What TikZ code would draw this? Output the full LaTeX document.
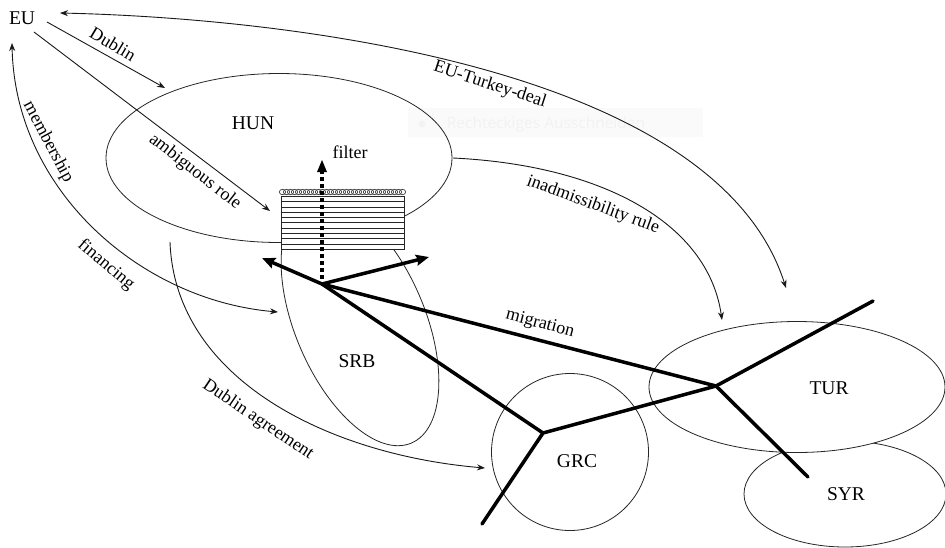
\documentclass[tikz,border=0pt]{standalone}
\usepackage{fontspec}
\setmainfont{Liberation Serif}
\newfontfamily\ghostfont{Open Sans}
\usetikzlibrary{shapes.geometric,arrows.meta}
\tikzset{
  region/.style={draw=black!85,line width=0.8pt,ellipse,inner sep=0pt,fill=white},
  lbl/.style={font=\fontsize{18}{20}\selectfont,inner sep=0pt,text=black},
  place/.style={font=\fontsize{19.5}{21}\selectfont,inner sep=0pt,text=black},
  thin arrow/.style={draw=black!90,line width=0.9pt,-{Stealth[length=8pt,width=6pt]}},
  both arrow/.style={draw=black!90,line width=0.9pt,{Stealth[length=8pt,width=6pt]}-{Stealth[length=8pt,width=6pt]}},
  flow/.style={draw=black,line width=3.5pt,line cap=round,line join=round},
  flow arrow/.style={flow,line cap=butt,-{Stealth[length=13pt,width=11pt,inset=2pt]}},
}
\begin{document}
\begin{tikzpicture}[x=1pt,y=-1pt]
\useasboundingbox (0,0) rectangle (945,547);
\fill[white] (0,0) rectangle (945,547);
% faint residue
\node[fill=black!2,minimum width=295pt,minimum height=29pt,inner sep=0pt] (ghost) at (555.5,122.5) {};
\fill[black!5] (422,124) circle (3.5pt);
\node[font=\ghostfont\fontsize{15.5}{17}\selectfont,text=black!5,inner sep=0pt] (ghosttext) at (546,124) {Rechteckiges Ausschneiden};
% regions
\node[region,minimum width=202pt,minimum height=106pt] (syr) at (845,494) {};
\node[region,minimum width=296pt,minimum height=131pt] (tur) at (797,387) {};
\node[region,circle,minimum size=157pt] (grc) at (570,452) {};
\node[region,fill=none,minimum width=346pt,minimum height=169pt] (hun) at (279,158) {};
\node[region,fill=none,minimum width=263pt,minimum height=130pt,rotate=-67] (srb) at (360,322) {};
% filter block
\node[draw=black!85,fill=white,line width=1pt,minimum width=123pt,minimum height=53pt,inner sep=0pt] (block) at (342.5,222.5) {};
\foreach \yy in {201.5,207,212.3,217.6,222.9,228.2,233.5,238.8,244.2}
  \draw[black!85,line width=0.9pt] (281,\yy) -- (404,\yy);
\fill[white] (279,187) rectangle (407,195.5);
\foreach \i in {0,...,30}
  \draw[black!75,line width=0.7pt] (282.5+\i*4,192) ellipse (3.2pt and 2.7pt);
% labels
\node[place] (eu) at (22,18) {EU};
\node[place] at (253,123) {HUN};
\node[place] at (357,361) {SRB};
\node[place] at (577,461) {GRC};
\node[place] at (829,388) {TUR};
\node[place] at (846,494) {SYR};
\node[lbl,rotate=-31] at (113,44) {Dublin};
\node[lbl,rotate=-38] at (195,172) {ambiguous role};
\node[lbl,rotate=-62] at (48,142) {membership};
\node[lbl,rotate=-40] at (106,265) {financing};
\node[lbl] at (350,152) {filter};
\node[lbl,rotate=-15] at (540,324) {migration};
\node[lbl,rotate=-34] at (258,420) {Dublin agreement};
\node[lbl,rotate=-20] at (593,205) {inadmissibility rule};
\node[lbl,rotate=-18] at (490,85) {EU-Turkey-deal};
% connector ends
\coordinate (a1) at (47,22);
\coordinate (a2) at (165,88);
\coordinate (b1) at (34,32);
\coordinate (b2) at (270,211);
\coordinate (c1) at (60,13);
\coordinate (c2) at (786,288);
\coordinate (d1) at (12,43);
\coordinate (d2) at (278,312);
\coordinate (e1) at (170,242);
\coordinate (e2) at (485,468);
\coordinate (f1) at (453,158);
\coordinate (f2) at (722,320);
\draw[thin arrow] (a1) -- (a2);
\draw[thin arrow] (b1) -- (b2);
\draw[both arrow] (c1) .. controls (280,18) and (715,65) .. (c2);
\draw[both arrow] (d1) .. controls (15,190) and (140,300) .. (d2);
\draw[thin arrow] (e1) .. controls (175,380) and (330,455) .. (e2);
\draw[thin arrow] (f1) .. controls (600,165) and (708,222) .. (f2);
% flows
\coordinate (hub) at (322,284);
\coordinate (ghub) at (543,433);
\coordinate (thub) at (716,386);
\coordinate (w) at (262,258);
\coordinate (n) at (429,257);
\coordinate (up) at (322,160);
\coordinate (sw) at (482,524);
\coordinate (ne) at (873,301);
\coordinate (se) at (808,477);
\draw[flow,line width=3.8pt,dash pattern=on 4.4pt off 2.6pt,line cap=butt] (322,279) -- (322,172);
\fill[black] (up) -- (327,172) -- (317,172) -- cycle;
\draw[flow arrow] (hub) -- (w);
\draw[flow arrow] (hub) -- (n);
\draw[flow] (hub) -- (ghub);
\draw[flow] (hub) -- (thub);
\draw[flow] (sw) -- (ghub) -- (thub) -- (ne);
\draw[flow] (thub) -- (se);
\end{tikzpicture}
\end{document}
